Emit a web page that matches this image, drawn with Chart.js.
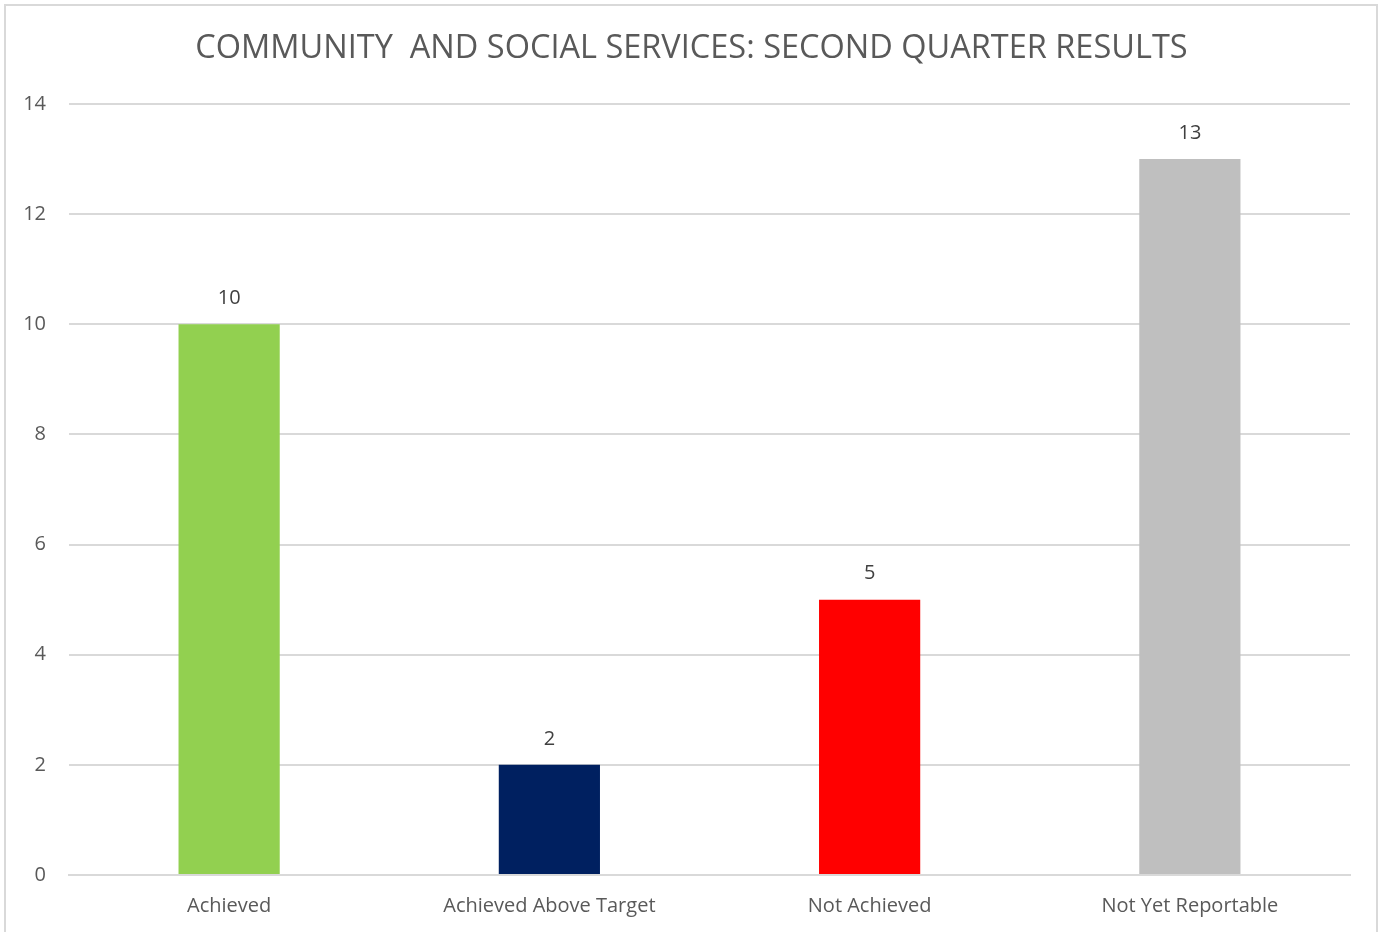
<!DOCTYPE html>
<html>
<head>
<meta charset="utf-8">
<script src="https://cdn.jsdelivr.net/npm/chart.js@4/dist/chart.umd.min.js"></script>
<style>
html,body{margin:0;padding:0;background:#fff;}
#wrap{position:relative;width:1383px;height:932px;overflow:hidden;}
#frame{position:absolute;left:4px;top:4px;width:1374px;height:940px;border:2px solid #d9d9d9;box-sizing:border-box;}
canvas{position:absolute;left:0;top:0;}
</style>
</head>
<body>
<div id="wrap">
<div id="frame"></div>
<canvas id="c" width="1383" height="932"></canvas>
</div>
<script>
const categories = ["Achieved", "Achieved Above Target", "Not Achieved", "Not Yet Reportable"];
const values = [10, 2, 5, 13];
const barColors = ["#92D050", "#002060", "#FF0000", "#BFBFBF"];
const yTicks = [0, 2, 4, 6, 8, 10, 12, 14];
const titleText = "COMMUNITY  AND SOCIAL SERVICES: SECOND QUARTER RESULTS";

const FONT = "'Open Sans', 'Liberation Sans', sans-serif";

const valueLabels = {
  id: 'valueLabels',
  afterDatasetsDraw(chart) {
    const ctx = chart.ctx;
    const meta = chart.getDatasetMeta(0);
    ctx.save();
    ctx.fillStyle = '#404040';
    ctx.font = "20px " + FONT;
    ctx.textAlign = 'center';
    ctx.textBaseline = 'middle';
    meta.data.forEach((bar, i) => {
      ctx.fillText(String(values[i]), bar.x, bar.y - 26);
    });
    ctx.restore();
  }
};

new Chart(document.getElementById('c'), {
  type: 'bar',
  data: {
    labels: categories,
    datasets: [{
      data: values,
      backgroundColor: barColors,
      borderWidth: 0,
      categoryPercentage: 1,
      barPercentage: 0.316,
      yAxisID: 'y'
    }]
  },
  options: {
    responsive: false,
    animation: false,
    devicePixelRatio: 1,
    layout: { padding: { left: 16, right: 16, top: 0, bottom: 0 } },
    plugins: {
      legend: { display: false },
      tooltip: { enabled: false },
      title: {
        display: true,
        text: titleText,
        color: '#595959',
        font: { family: FONT, size: 32.5, weight: 'normal' },
        padding: { top: 29, bottom: 36 }
      }
    },
    scales: {
      x: {
        grid: { display: false, drawTicks: false },
        border: { color: '#d9d9d9', width: 2 },
        ticks: {
          color: '#595959',
          font: { family: FONT, size: 20 },
          padding: 19
        },
        afterFit(s) { s.height = 57; }
      },
      y: {
        position: 'left',
        min: 0,
        max: 14,
        afterBuildTicks(s) { s.ticks = yTicks.map(v => ({ value: v })); },
        grid: { color: '#d9d9d9', lineWidth: 2, drawTicks: false },
        border: { display: false },
        ticks: {
          color: '#595959',
          font: { family: FONT, size: 20 },
          padding: 23
        },
        afterFit(s) { s.width = 53; }
      },
      ySpacer: {
        position: 'right',
        type: 'linear',
        min: 0,
        max: 14,
        grid: { display: false, drawTicks: false },
        border: { display: false },
        ticks: { display: false },
        afterFit(s) { s.width = 17; }
      }
    }
  },
  plugins: [valueLabels]
});
</script>
</body>
</html>
